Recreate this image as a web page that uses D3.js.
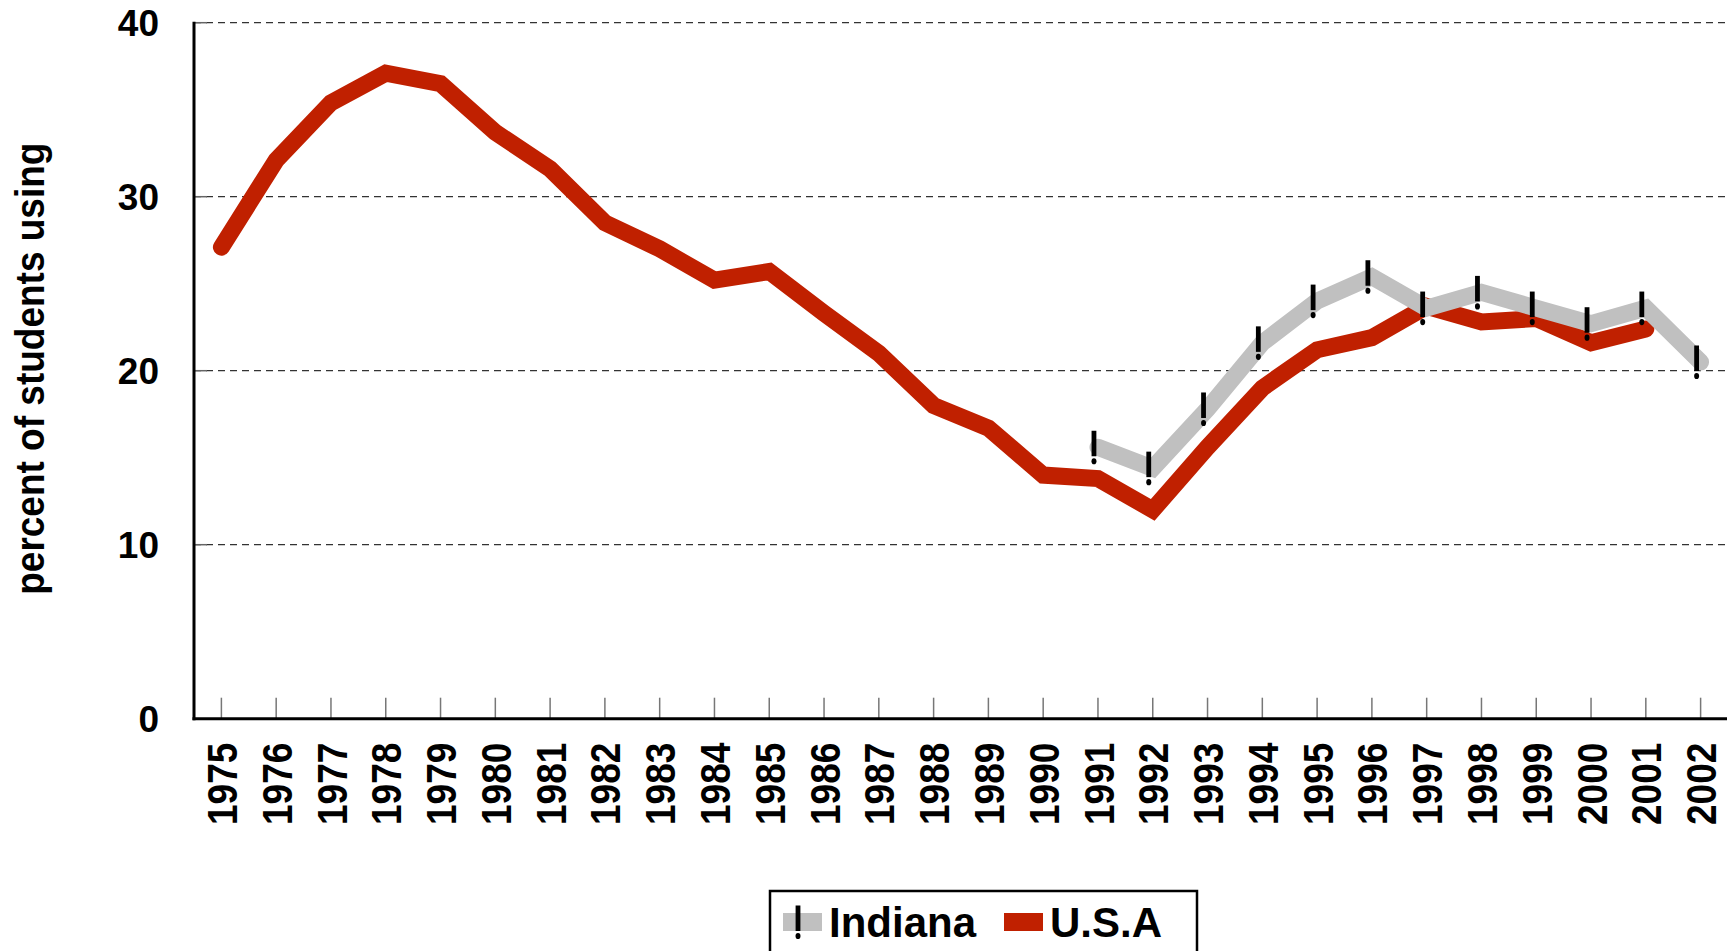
<!DOCTYPE html>
<html>
<head>
<meta charset="utf-8">
<script src="https://cdn.jsdelivr.net/npm/d3@7"></script>
<style>
  html, body { margin: 0; padding: 0; background: #fff; }
  svg { display: block; }
  text { font-family: "Liberation Sans", Arial, Helvetica, sans-serif; font-weight: bold; fill: #000; }
</style>
</head>
<body>
<script>
// ---- data ----
const years = ["1975","1976","1977","1978","1979","1980","1981","1982","1983","1984","1985","1986","1987","1988","1989","1990","1991","1992","1993","1994","1995","1996","1997","1998","1999","2000","2001","2002"];
const usaValues = [27.1, 32.1, 35.4, 37.1, 36.5, 33.7, 31.6, 28.5, 27.0, 25.2, 25.7, 23.3, 21.0, 18.0, 16.7, 14.0, 13.8, 12.0, 15.6, 19.0, 21.2, 21.9, 23.7, 22.8, 23.0, 21.6, 22.4, null];
const indianaValues = [null, null, null, null, null, null, null, null, null, null, null, null, null, null, null, null, 15.6, 14.4, 17.8, 21.6, 24.0, 25.4, 23.6, 24.5, 23.6, 22.7, 23.6, 20.5];
const yTicks = [0, 10, 20, 30, 40];
const seriesNames = ["Indiana", "U.S.A"];
const yTitle = "percent of students using";

// ---- layout ----
const W = 1727, H = 951;
const plot = { left: 194, right: 1728, top: 22.7, bottom: 718.7 };
const RED = "#C02000", GREY = "#C0C0C0";

const svg = d3.select("body").append("svg").attr("width", W).attr("height", H);
svg.append("rect").attr("width", W).attr("height", H).attr("fill", "#fff");

const x = d3.scalePoint().domain(years).range([plot.left, plot.right]).padding(0.5);
const y = d3.scaleLinear().domain([0, 40]).range([plot.bottom, plot.top]);

// grid lines
svg.append("g").selectAll("line").data(yTicks.filter(d => d > 0)).join("line")
  .attr("x1", plot.left).attr("x2", W)
  .attr("y1", d => y(d)).attr("y2", d => y(d))
  .attr("stroke", "#333").attr("stroke-width", 1.3).attr("stroke-dasharray", "7,5");

// y axis
const yAxis = d3.axisLeft(y).tickValues(yTicks).tickSize(0).tickPadding(35).tickFormat(d3.format("d"));
const gy = svg.append("g").attr("transform", `translate(${plot.left},0)`).call(yAxis);
gy.select(".domain").remove();
gy.selectAll("text").attr("font-size", 37).attr("dy", "0.35em");
// inner y ticks
svg.append("g").selectAll("line").data(yTicks.filter(d => d > 0)).join("line")
  .attr("x1", plot.left).attr("x2", plot.left + 13)
  .attr("y1", d => y(d)).attr("y2", d => y(d))
  .attr("stroke", "#666").attr("stroke-width", 1.5);

// x axis
const xAxis = d3.axisBottom(x).tickSize(0).tickPadding(0);
const gx = svg.append("g").attr("transform", `translate(0,${plot.bottom})`).call(xAxis);
gx.select(".domain").remove();
gx.selectAll("text")
  .attr("font-size", 37)
  .attr("text-anchor", "end")
  .attr("transform", "translate(0,24) rotate(-90) scale(1,1.13)")
  .attr("dy", "0.36em")
  .attr("y", 0).attr("x", 0);
// inner x ticks
svg.append("g").selectAll("line").data(years).join("line")
  .attr("x1", d => x(d)).attr("x2", d => x(d))
  .attr("y1", plot.bottom).attr("y2", plot.bottom - 21)
  .attr("stroke", "#777").attr("stroke-width", 1.5);

// axis lines
svg.append("line").attr("x1", plot.left).attr("x2", plot.left).attr("y1", plot.top - 1).attr("y2", plot.bottom + 1.5)
  .attr("stroke", "#000").attr("stroke-width", 3);
svg.append("line").attr("x1", plot.left - 1.5).attr("x2", W).attr("y1", plot.bottom).attr("y2", plot.bottom)
  .attr("stroke", "#000").attr("stroke-width", 3);

// y title
svg.append("text")
  .attr("transform", `translate(44,${(plot.top + plot.bottom) / 2 - 2}) rotate(-90) scale(1,1.08)`)
  .attr("text-anchor", "middle")
  .attr("font-size", 37)
  .text(yTitle);

// lines
const line = d3.line()
  .defined(d => d.v != null)
  .x(d => x(d.year)).y(d => y(d.v));
const usaData = years.map((yr, i) => ({ year: yr, v: usaValues[i] }));
const indData = years.map((yr, i) => ({ year: yr, v: indianaValues[i] }));

svg.append("path").datum(usaData).attr("d", line)
  .attr("fill", "none").attr("stroke", RED).attr("stroke-width", 17)
  .attr("stroke-linecap", "round").attr("stroke-linejoin", "miter");
svg.append("path").datum(indData).attr("d", line)
  .attr("fill", "none").attr("stroke", GREY).attr("stroke-width", 17)
  .attr("stroke-linecap", "round").attr("stroke-linejoin", "miter");

// Indiana markers ("!")
function bang(g, cx, cy) {
  g.append("rect").attr("x", cx - 2.4).attr("y", cy - 16.5).attr("width", 4.8).attr("height", 25.5).attr("fill", "#000");
  g.append("ellipse").attr("cx", cx).attr("cy", cy + 14).attr("rx", 2.5).attr("ry", 3.1).attr("fill", "#000");
}
const mk = svg.append("g");
indData.filter(d => d.v != null).forEach(d => bang(mk, x(d.year) - 4, y(d.v)));

// legend
const lg = svg.append("g");
lg.append("rect").attr("x", 770).attr("y", 891).attr("width", 427).attr("height", 90)
  .attr("fill", "#fff").attr("stroke", "#000").attr("stroke-width", 2.5);
lg.append("rect").attr("x", 783).attr("y", 913).attr("width", 39).attr("height", 18).attr("fill", GREY);
bang(lg, 798, 922);
lg.append("text").attr("x", 829).attr("y", 937).attr("font-size", 42).text(seriesNames[0]);
lg.append("rect").attr("x", 1004).attr("y", 913).attr("width", 39).attr("height", 18).attr("fill", RED);
lg.append("text").attr("x", 1050).attr("y", 937).attr("font-size", 42).text(seriesNames[1]);
</script>
</body>
</html>
